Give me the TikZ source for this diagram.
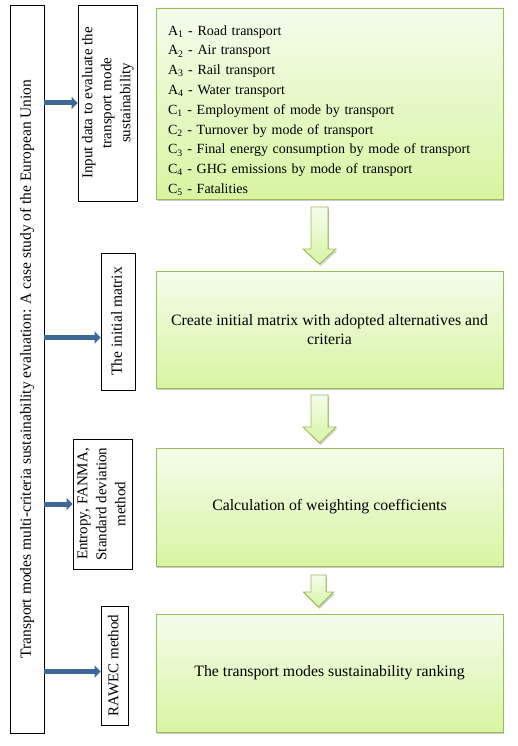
\documentclass[tikz,border=0pt]{standalone}
\usepackage{fontspec}
\setmainfont{Liberation Serif}
\usetikzlibrary{shadows,arrows.meta}
\definecolor{gborder}{RGB}{155,187,89}
\definecolor{gtop}{RGB}{245,252,236}
\definecolor{gbot}{RGB}{215,245,162}
\definecolor{barrow}{RGB}{62,104,152}
\newcommand{\blockarr}[6]{%
  \filldraw[downarrow] (#1-#5,#2) -- (#1+#5,#2) -- (#1+#5,#3) -- (#1+#6,#3) -- (#1,#4) -- (#1-#6,#3) -- (#1-#5,#3) -- cycle;}
\newcommand{\rottext}[1]{\rotatebox{90}{\begin{tabular}{@{}c@{}}#1\end{tabular}}}
\begin{document}
\begin{tikzpicture}[x=1pt,y=-1pt,
  greenbox/.style={draw=gborder, line width=0.9pt, top color=gtop, bottom color=gbot,
    drop shadow={shadow xshift=1.2pt,shadow yshift=-2pt,opacity=0.35,fill=black!60},
    inner sep=0pt, minimum width=347pt, align=center,
    font=\fontsize{15.8}{19.5}\selectfont},
  downarrow/.style={draw=gborder, line width=0.8pt, top color=gtop, bottom color=gbot,
    drop shadow={shadow xshift=1.2pt,shadow yshift=-2pt,opacity=0.3,fill=black!60}},
  plainbox/.style={draw=black, line width=0.8pt, fill=white, inner sep=0pt,
    font=\fontsize{15}{19}\selectfont},
  bluearrow/.style={draw=barrow, line width=5pt, -{Triangle[length=6pt,width=12pt]}}
]
\useasboundingbox (0,0) rectangle (518,746);

% left column boxes
\node[plainbox, minimum width=34pt, minimum height=728pt, font=\fontsize{15.5}{18}\selectfont] (main) at (27,369)
  {\rotatebox{90}{Transport modes multi-criteria sustainability evaluation: A case study of the European Union}};
\node[plainbox, minimum width=59pt, minimum height=196pt] (input) at (107.5,103)
  {\rottext{Input data to evaluate the\\ transport mode\\ sustainability}};
\node[plainbox, minimum width=34pt, minimum height=137pt, font=\fontsize{15.5}{19}\selectfont] (matrix) at (118,321.5)
  {\rottext{The initial matrix}};
\node[plainbox, minimum width=59pt, minimum height=130pt] (entropy) at (102.5,504)
  {\rottext{Entropy, FANMA,\\ Standard deviation\\ method}};
\node[plainbox, minimum width=27pt, minimum height=119pt] (rawec) at (114.5,665.5)
  {\rottext{RAWEC method}};

% blue arrows
\coordinate (ma) at ([yshift=-16pt]matrix.west);
\coordinate (ra) at ([yshift=-6pt]rawec.west);
\draw[bluearrow] (main.east |- input.west) -- (input.west);
\draw[bluearrow] (main.east |- ma) -- (ma);
\draw[bluearrow] (main.east |- entropy.west) -- (entropy.west);
\draw[bluearrow] (main.east |- ra) -- (ra);

% green boxes
\node[greenbox, minimum height=191pt, text width=323pt, align=left, font=\fontsize{14}{19.8}\selectfont] (g1) at (329.5,103.5)
  {\rule{0pt}{24pt}A\textsubscript{1} - Road transport\\
   A\textsubscript{2} - Air transport\\
   A\textsubscript{3} - Rail transport\\
   A\textsubscript{4} - Water transport\\
   C\textsubscript{1} - Employment of mode by transport\\
   C\textsubscript{2} - Turnover by mode of transport\\
   C\textsubscript{3} - Final energy consumption by mode of transport\\
   C\textsubscript{4} - GHG emissions by mode of transport\\
   C\textsubscript{5} - Fatalities};
\node[greenbox, minimum height=117pt] (g2) at (329.5,329.5)
  {Create initial matrix with adopted alternatives and\\ criteria};
\node[greenbox, minimum height=118pt] (g3) at (329.5,507)
  {Calculation of weighting coefficients};
\node[greenbox, minimum height=118pt] (g4) at (329.5,673)
  {The transport modes sustainability ranking};

% block arrows between green boxes
\blockarr{319.5}{207}{249}{264}{8.5}{16.5}
\blockarr{319.5}{395}{427}{443}{8.5}{16.5}
\blockarr{318.5}{575}{592}{607}{7.5}{15}
\end{tikzpicture}
\end{document}
